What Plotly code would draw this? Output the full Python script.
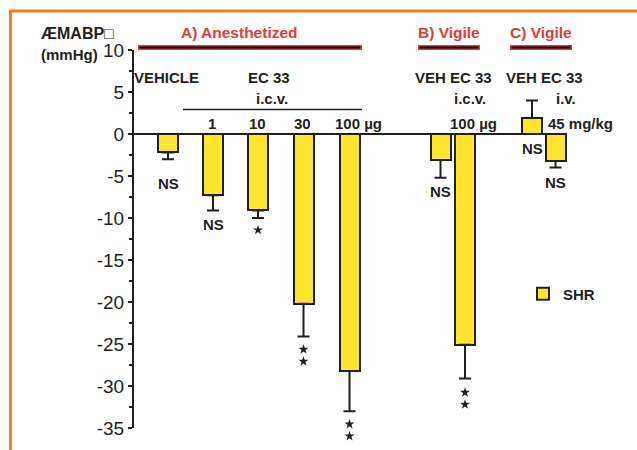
import plotly.graph_objects as go

# ---------------- data ----------------
categories = ["VEHICLE", "EC 33 1 µg", "EC 33 10 µg", "EC 33 30 µg", "EC 33 100 µg",
              "VEH (vigile)", "EC 33 100 µg (vigile)", "VEH (i.v.)", "EC 33 45 mg/kg (i.v.)"]
mean_change = [-2.2, -7.3, -9.1, -20.2, -28.2, -3.1, -25.1, 1.9, -3.2]
sem = [0.8, 1.8, 0.9, 3.9, 4.8, 2.1, 4.0, 2.1, 0.8]
significance = ["NS", "NS", "*", "**", "**", "NS", "**", "NS", "NS"]
dose_labels_A = ["1", "10", "30", "100 µg"]
y_tick_values = [10, 5, 0, -5, -10, -15, -20, -25, -30, -35]
y_tick_labels = ["10", "5", "0", "-5", "-10", "-15", "-20", "-25", "-30", "-35"]
y_minor_ticks = [7.5, 2.5, -2.5, -7.5, -12.5, -17.5, -22.5, -27.5, -32.5]
y_axis_span = [-35, 10]
series_name = "SHR"

# ---------------- layout constants ----------------
W, H = 637, 450
L, R_EDGE, T = 133, 633, 50
Y_BOTTOM_PX = 428          # pixel row of the lowest tick (-35)
PB = H                     # plot area runs to the bottom of the figure
bar_x = [7, 16, 25, 34.1, 43.3, 61.5, 66.4, 79.8, 84.5]  # slot positions on a 0-100 x scale
bar_w = 4
sig_shift = [24, 14, 12, 13, 13, 14, 14, 14, 15]
STAR_GAP = 12
UNITS_PER_PX = (y_axis_span[1] - y_axis_span[0]) / (Y_BOTTOM_PX - T)
y_range = [y_axis_span[0] - (PB - Y_BOTTOM_PX) * UNITS_PER_PX, y_axis_span[1]]

INK = "#231f20"
YELLOW = "#FFE62E"
RED = "#E03A3A"
ORANGE = "#F47B20"
FONT = "Liberation Sans"


def px(xp):
    return (xp - L) / (R_EDGE - L)


def py(yp):
    return (PB - yp) / (PB - T)


plus = [s if m >= 0 else 0 for m, s in zip(mean_change, sem)]
minus = [s if m < 0 else 0 for m, s in zip(mean_change, sem)]

fig = go.Figure()
fig.add_trace(go.Bar(
    x=bar_x, y=mean_change, width=bar_w, name=series_name,
    marker=dict(color=YELLOW, line=dict(color=INK, width=2)),
    error_y=dict(type="data", symmetric=False, array=plus, arrayminus=minus,
                 color=INK, thickness=2, width=6),
    showlegend=True, hovertext=categories,
))

annotations = []


def txt(x, y, text, color=INK, size=15, anchor="center", family=FONT, bold=True):
    annotations.append(dict(
        x=px(x), y=py(y), xref="paper", yref="paper", text=text, showarrow=False,
        xanchor=anchor, yanchor="middle",
        font=dict(family=family, size=size, color=color, weight="bold" if bold else "normal"),
    ))


# axis title
txt(39, 33, "ÆMABP□", anchor="left", size=16)
txt(39, 55, "(mmHg)", anchor="left")
# red group headers
txt(239.5, 32, "A) Anesthetized", color=RED, size=15.5)
txt(449, 32, "B) Vigile", color=RED, size=15.5)
txt(541, 32, "C) Vigile", color=RED, size=15.5)
# group A labels
txt(132, 77, "VEHICLE", anchor="left")
txt(269, 77, "EC 33")
txt(272, 98, "i.c.v.")
for xc, lab in zip([212, 257, 302], dose_labels_A[:3]):
    txt(xc, 123, lab)
txt(333, 123, dose_labels_A[3], anchor="left")
# group B labels
txt(453, 77, "VEH EC 33")
txt(470, 98, "i.c.v.")
txt(447.5, 123, "100 µg", anchor="left")
# group C labels
txt(544.5, 77, "VEH EC 33")
txt(566, 98, "i.v.")
txt(545.5, 123, "45 mg/kg", anchor="left")

# significance marks: NS as text, stars as star markers
star_x, star_y = [], []
for xb, m, s, sig, sh in zip(bar_x, mean_change, sem, significance, sig_shift):
    yv = m - s if m < 0 else 0
    if sig == "NS":
        annotations.append(dict(x=xb, y=yv, xref="x", yref="y", text="NS", showarrow=False,
                                yanchor="middle", yshift=-sh,
                                font=dict(family=FONT, size=15, color=INK, weight="bold")))
    else:
        for k in range(len(sig)):
            star_x.append(xb)
            star_y.append(yv - (sh + STAR_GAP * k) * UNITS_PER_PX)

fig.add_trace(go.Scatter(
    x=star_x, y=star_y, mode="markers", showlegend=False, hoverinfo="skip",
    marker=dict(symbol="star", size=7.5, color=INK, line=dict(width=0)),
))

shapes = []
# y axis line (only over the labelled span)
shapes.append(dict(type="line", xref="paper", yref="y", x0=0, x1=0,
                   y0=y_axis_span[0], y1=y_axis_span[1], line=dict(color=INK, width=2)))
# x axis (zero) line
shapes.append(dict(type="line", xref="x", yref="y", x0=0, x1=86.5, y0=0, y1=0,
                   line=dict(color=INK, width=2)))
# bracket under EC 33 i.c.v.
shapes.append(dict(type="line", xref="paper", yref="paper", x0=px(183), x1=px(362),
                   y0=py(109.5), y1=py(109.5), line=dict(color=INK, width=1.5)))
# red/black underlines
for x0, x1 in [(138, 362), (418, 480), (510, 572)]:
    shapes.append(dict(type="rect", xref="paper", yref="paper", x0=px(x0), x1=px(x1),
                       y0=py(50), y1=py(45), fillcolor=RED, line=dict(width=0)))
    shapes.append(dict(type="line", xref="paper", yref="paper", x0=px(x0 + 1.5), x1=px(x1 - 1.5),
                       y0=py(47.5), y1=py(47.5), line=dict(color="black", width=2)))
# orange frame (top and left edges)
shapes.append(dict(type="path", xref="paper", yref="paper",
                   path=f"M {px(637)},{py(11)} L {px(10.5)},{py(11)} L {px(10.5)},{py(452)}",
                   line=dict(color=ORANGE, width=3)))

fig.update_layout(
    width=W, height=H, autosize=False,
    margin=dict(l=L, r=W - R_EDGE, t=T, b=H - PB, pad=0),
    paper_bgcolor="white", plot_bgcolor="white",
    font=dict(family=FONT, color=INK),
    xaxis=dict(range=[0, 100], visible=False, fixedrange=True),
    yaxis=dict(range=y_range, tickvals=y_tick_values, ticktext=y_tick_labels,
               ticks="outside", ticklen=4, tickwidth=2, tickcolor=INK,
               showline=False, showgrid=False, zeroline=False, fixedrange=True,
               tickfont=dict(family=FONT, size=19, color=INK),
               minor=dict(tickvals=y_minor_ticks, ticks="outside", ticklen=3, tickwidth=1.5,
                          tickcolor=INK, showgrid=False)),
    showlegend=True,
    legend=dict(x=px(523), y=py(294), xanchor="left", yanchor="middle",
                bgcolor="rgba(0,0,0,0)", font=dict(family=FONT, size=15, color=INK, weight="bold")),
    annotations=annotations, shapes=shapes, bargap=0,
)

fig.write_html("out.html", config={"displayModeBar": False},
               post_script="document.body.style.margin='0';")
